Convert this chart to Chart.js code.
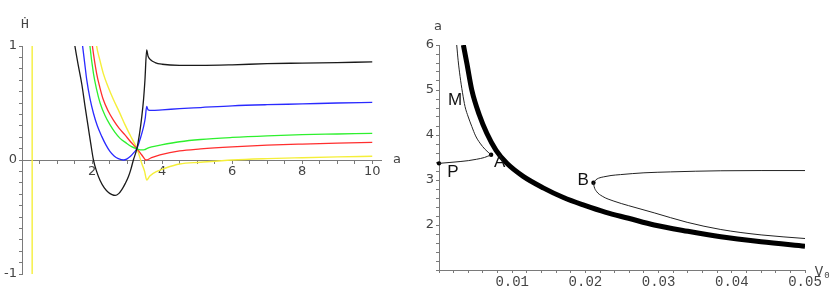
<!DOCTYPE html>
<html>
<head>
<meta charset="utf-8">
<script src="https://cdn.jsdelivr.net/npm/chart.js@4"></script>
<style>
  body { margin: 0; background: #fff; }
  .box { position: absolute; top: 0; height: 288px; }
  #left { left: 0; width: 415px; }
  #right { left: 415px; width: 416px; }
</style>
</head>
<body>
<div class="box" id="left"><canvas id="hdot"></canvas></div>
<div class="box" id="right"><canvas id="phase"></canvas></div>
<script>
// left panel: H-dot against a, one curve per colour
const aBlack = [1.46, 1.51, 1.6, 1.71, 1.8, 1.89, 1.96, 2.04, 2.13, 2.23, 2.35, 2.47, 2.57, 2.66, 2.76, 2.85, 2.95, 3.04, 3.11, 3.18, 3.28, 3.36, 3.42, 3.47, 3.51, 3.56, 3.6, 3.67, 3.8, 4.0, 4.5, 5.1, 6, 7, 8, 9, 10];
const hBlack = [1.1, 1.0, 0.84, 0.66, 0.47, 0.29, 0.15, 0.0, -0.1, -0.18, -0.245, -0.285, -0.303, -0.31, -0.295, -0.26, -0.205, -0.145, -0.08, 0.0, 0.1, 0.24, 0.38, 0.53, 0.7, 0.965, 0.91, 0.88, 0.855, 0.84, 0.83, 0.83, 0.835, 0.845, 0.85, 0.855, 0.86];
const aBlue = [1.7, 1.73, 1.79, 1.85, 1.94, 2.04, 2.15, 2.28, 2.4, 2.51, 2.63, 2.75, 2.9, 3.0, 3.09, 3.18, 3.28, 3.37, 3.47, 3.52, 3.56, 3.6, 3.7, 4.0, 4.5, 5.1, 6, 7, 8, 9, 10];
const hBlue = [1.08, 1.0, 0.85, 0.7, 0.54, 0.41, 0.3, 0.205, 0.13, 0.075, 0.035, 0.012, 0.0, 0.01, 0.03, 0.06, 0.1, 0.18, 0.29, 0.37, 0.47, 0.44, 0.435, 0.44, 0.45, 0.46, 0.475, 0.485, 0.492, 0.5, 0.506];
const aGreen = [1.92, 1.94, 2.04, 2.13, 2.23, 2.37, 2.51, 2.65, 2.8, 2.97, 3.13, 3.28, 3.42, 3.5, 3.56, 3.7, 3.94, 4.5, 5.1, 6, 7, 8, 9, 10];
const hGreen = [1.08, 1.0, 0.76, 0.62, 0.5, 0.39, 0.31, 0.245, 0.19, 0.15, 0.117, 0.098, 0.088, 0.09, 0.1, 0.115, 0.13, 0.16, 0.18, 0.198, 0.212, 0.222, 0.228, 0.234];
const aRed = [1.98, 2.01, 2.13, 2.22, 2.32, 2.46, 2.61, 2.77, 2.94, 3.1, 3.28, 3.42, 3.54, 3.7, 3.94, 4.5, 5.1, 6, 7, 8, 9, 10];
const hRed = [1.08, 1.0, 0.76, 0.64, 0.53, 0.43, 0.35, 0.28, 0.22, 0.16, 0.1, 0.044, 0.0, 0.02, 0.044, 0.08, 0.097, 0.115, 0.13, 0.14, 0.148, 0.155];
const aYellow = [2.1, 2.13, 2.22, 2.32, 2.46, 2.61, 2.78, 2.94, 3.1, 3.28, 3.42, 3.5, 3.56, 3.65, 3.85, 4.1, 4.5, 5.1, 6, 7, 8, 9, 10];
const hYellow = [1.08, 1.0, 0.88, 0.76, 0.64, 0.53, 0.42, 0.31, 0.21, 0.1, -0.03, -0.1, -0.175, -0.14, -0.1, -0.07, -0.035, -0.02, 0.0, 0.012, 0.02, 0.027, 0.033];
const aWall = [0.29, 0.29];
const hWall = [-1, 1];
const xTickLabels = [2, 4, 6, 8, 10];
const yTickLabels = [-1, 0, 1];

// right panel: a against V0
const vThick = [0.00333, 0.0038, 0.00448, 0.0055, 0.00653, 0.0078, 0.00927, 0.0115, 0.0143, 0.017, 0.0198, 0.0228, 0.0259, 0.0294, 0.034, 0.0385, 0.044, 0.05];
const aThick = [6.0, 5.6, 5.0, 4.45, 4.04, 3.66, 3.37, 3.08, 2.82, 2.61, 2.44, 2.28, 2.15, 2.0, 1.86, 1.74, 1.63, 1.53];
const vM = [0.00242, 0.00262, 0.00288, 0.0032, 0.00356, 0.004, 0.00448, 0.005, 0.0056, 0.0063, 0.00712];
const aM = [6.0, 5.65, 5.3, 4.95, 4.63, 4.4, 4.19, 3.98, 3.82, 3.68, 3.56];
const vPA = [0, 0.0015, 0.00288, 0.004, 0.0051, 0.0062, 0.00712];
const aPA = [3.37, 3.39, 3.41, 3.43, 3.46, 3.5, 3.56];
const vBup = [0.0211, 0.0214, 0.0218, 0.0225, 0.0235, 0.0248, 0.028, 0.0316, 0.035, 0.0385, 0.044, 0.05];
const aBup = [2.94, 3.0, 3.04, 3.07, 3.1, 3.12, 3.16, 3.18, 3.195, 3.205, 3.21, 3.21];
const vBlow = [0.0211, 0.0212, 0.0215, 0.0223, 0.0239, 0.0259, 0.0294, 0.0339, 0.0385, 0.044, 0.05];
const aBlow = [2.94, 2.85, 2.75, 2.64, 2.53, 2.43, 2.27, 2.06, 1.9, 1.78, 1.7];
const dotNames = ['P', 'A', 'B'];
const dotV = [0, 0.00712, 0.0211];
const dotA = [3.37, 3.56, 2.94];
const tagNames = ['M', 'A', 'P', 'B'];
const tagV = [0.0022, 0.0083, 0.0019, 0.0197];
const tagA = [4.78, 3.4, 3.16, 3.0];

const pts = (xs, ys) => xs.map((x, i) => ({ x: x, y: ys[i] }));
const near = (v, list) => list.some((t) => Math.abs(v - t) < 1e-9);

const line = (xs, ys, color, width, smooth = true) => ({
  data: pts(xs, ys),
  borderColor: color,
  borderWidth: width,
  pointRadius: 0,
  showLine: true,
  tension: smooth ? 0.4 : 0,
  cubicInterpolationMode: smooth ? 'monotone' : 'default',
  fill: false,
});

const axisColor = '#7a7a7a';
const labelColor = '#444';
const sans = 'DejaVu Sans';

// text that sits next to the axes
const leftTitles = {
  id: 'leftTitles',
  afterDraw(chart) {
    const { ctx, chartArea, scales } = chart;
    ctx.save();
    ctx.fillStyle = labelColor;
    ctx.textAlign = 'center';
    ctx.textBaseline = 'middle';
    ctx.font = '13px "DejaVu Sans Mono"';
    ctx.fillText('Ḣ', chartArea.left + 3, chartArea.top - 21);
    ctx.font = '13px ' + sans;
    ctx.fillText('a', chartArea.right + 16, scales.y.getPixelForValue(0));
    ctx.restore();
  },
};

const rightTitles = {
  id: 'rightTitles',
  afterDraw(chart) {
    const { ctx, chartArea, scales } = chart;
    ctx.save();
    ctx.fillStyle = labelColor;
    ctx.textAlign = 'center';
    ctx.textBaseline = 'middle';
    ctx.font = '13px ' + sans;
    ctx.fillText('a', chartArea.left - 1, chartArea.top - 18);
    ctx.font = '14px "Liberation Mono"';
    ctx.fillText('V', chartArea.right + 14, chartArea.bottom + 2);
    ctx.font = '9px "Liberation Mono"';
    ctx.fillText('0', chartArea.right + 22, chartArea.bottom + 6);
    // point names on the curves
    ctx.fillStyle = '#111';
    ctx.font = '17px "Liberation Sans"';
    tagNames.forEach((t, i) => {
      ctx.fillText(t, scales.x.getPixelForValue(tagV[i]), scales.y.getPixelForValue(tagA[i]));
    });
    ctx.restore();
  },
};

new Chart(document.getElementById('hdot'), {
  type: 'scatter',
  data: {
    datasets: [
      line(aWall, hWall, '#f5ef3a', 1.4, false),
      line(aBlack, hBlack, '#1a1a1a', 1.3),
      line(aBlue, hBlue, '#2a2aff', 1.3),
      line(aGreen, hGreen, '#2ef02e', 1.3),
      line(aRed, hRed, '#ff2e2e', 1.3),
      line(aYellow, hYellow, '#f5ef3a', 1.4),
    ],
  },
  options: {
    responsive: true,
    maintainAspectRatio: false,
    animation: false,
    events: [],
    layout: { padding: { left: 0, top: 46, right: 34, bottom: 14 } },
    plugins: { legend: { display: false }, tooltip: { enabled: false } },
    scales: {
      x: {
        type: 'linear',
        position: { y: 0 },
        min: 0,
        max: 10.25,
        border: { color: axisColor, width: 1 },
        grid: { drawOnChartArea: false, tickLength: 3, color: axisColor },
        ticks: {
          stepSize: 0.5,
          autoSkip: false,
          includeBounds: false,
          maxRotation: 0,
          padding: 1,
          color: labelColor,
          font: { family: sans, size: 13 },
          callback: (v) => (near(v, xTickLabels) ? String(v) : ''),
        },
      },
      y: {
        type: 'linear',
        position: 'left',
        min: -1,
        max: 1,
        afterFit: (s) => { s.width = 22; },
        border: { color: axisColor, width: 1 },
        grid: { drawOnChartArea: false, tickLength: 3, color: axisColor },
        ticks: {
          stepSize: 0.1,
          autoSkip: false,
          padding: 2,
          color: labelColor,
          font: { family: sans, size: 13 },
          callback: (v) => (near(v, yTickLabels) ? (v < 0 ? '-' + Math.abs(v) : String(v)) : ''),
        },
      },
    },
  },
  plugins: [leftTitles],
});

new Chart(document.getElementById('phase'), {
  type: 'scatter',
  data: {
    datasets: [
      line(vThick, aThick, '#000', 5),
      line(vM, aM, '#222', 1),
      line(vPA, aPA, '#222', 1),
      line(vBup, aBup, '#222', 1),
      line(vBlow, aBlow, '#222', 1),
      {
        label: dotNames.join(' '),
        data: pts(dotV, dotA),
        pointRadius: 2.2,
        pointBackgroundColor: '#000',
        pointBorderWidth: 0,
        showLine: false,
        clip: false,
      },
    ],
  },
  options: {
    responsive: true,
    maintainAspectRatio: false,
    animation: false,
    events: [],
    layout: { padding: { left: 0, top: 45, right: 26, bottom: 0 } },
    plugins: { legend: { display: false }, tooltip: { enabled: false } },
    scales: {
      x: {
        type: 'linear',
        min: 0,
        max: 0.05,
        afterFit: (s) => { s.height = 18; },
        border: { color: axisColor, width: 1 },
        grid: { drawOnChartArea: false, tickLength: 3, color: axisColor },
        ticks: {
          stepSize: 0.002,
          autoSkip: false,
          maxRotation: 0,
          padding: 1,
          color: labelColor,
          font: { family: 'Liberation Mono', size: 14 },
          callback: (v) => {
            const k = Math.round(v * 100);
            return k > 0 && Math.abs(v * 100 - k) < 1e-6 ? (k / 100).toFixed(2) : '';
          },
        },
      },
      y: {
        type: 'linear',
        min: 1,
        max: 6,
        afterFit: (s) => { s.width = 24; },
        border: { color: axisColor, width: 1 },
        grid: { drawOnChartArea: false, tickLength: 3, color: axisColor },
        ticks: {
          stepSize: 0.2,
          autoSkip: false,
          padding: 2,
          color: labelColor,
          font: { family: sans, size: 13 },
          callback: (v) => {
            const k = Math.round(v);
            return k >= 2 && Math.abs(v - k) < 1e-6 ? String(k) : '';
          },
        },
      },
    },
  },
  plugins: [rightTitles],
});
</script>
</body>
</html>
